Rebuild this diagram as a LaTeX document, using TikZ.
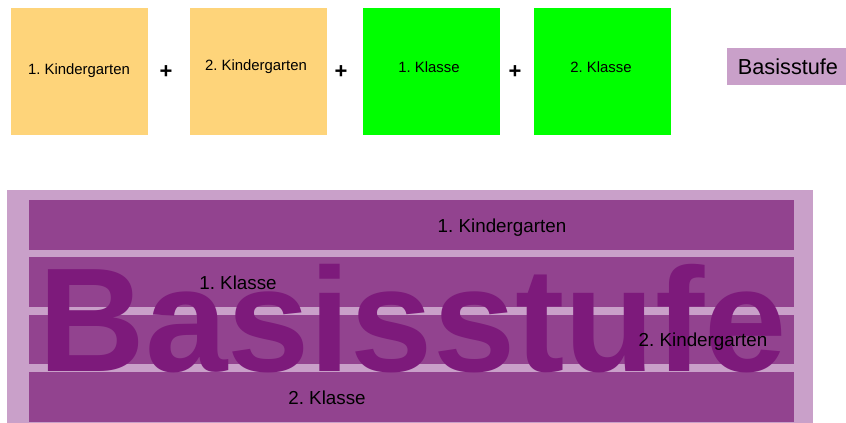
\documentclass[tikz,border=0pt]{standalone}
\usepackage{fontspec}
\setmainfont{Liberation Sans}
\frenchspacing
\definecolor{kgorange}{HTML}{FED47A}
\definecolor{klgreen}{HTML}{00FF00}
\definecolor{lightpurple}{HTML}{C9A0C9}
\definecolor{barpurple}{HTML}{92438F}
\definecolor{darkpurple}{HTML}{7D1A7B}
\begin{document}
\begin{tikzpicture}[x=1pt,y=-1pt,
  box/.style={minimum width=137pt,minimum height=127pt,inner sep=0pt,draw=none},
  toplabel/.style={font=\fontsize{14.9}{16}\selectfont,inner sep=0pt},
  plussign/.style={font=\fontsize{22}{24}\selectfont\bfseries,inner sep=0pt},
  bar/.style={fill=barpurple,draw=none},
  barlabel/.style={font=\fontsize{18.8}{20}\selectfont,inner sep=0pt,text=black}]
\useasboundingbox (0,0) rectangle (846,423);
% top row
\node[box,fill=kgorange] (b1) at (79.5,71.5) {};
\node[box,fill=kgorange] (b2) at (258.5,71.5) {};
\node[box,fill=klgreen] (b3) at (431.5,71.5) {};
\node[box,fill=klgreen] (b4) at (602.5,71.5) {};
\node[toplabel] (t1) at (79,71) {1. Kindergarten};
\node[toplabel] (t2) at (256,67) {2. Kindergarten};
\node[toplabel] (t3) at (429,67) {1. Klasse};
\node[toplabel] (t4) at (601,67) {2. Klasse};
\node[plussign] (p1) at (166,72) {+};
\node[plussign] (p2) at (341,72) {+};
\node[plussign] (p3) at (515,72) {+};
\node[fill=lightpurple,minimum width=122pt,minimum height=37pt,inner sep=0pt,
  font=\fontsize{21.7}{24}\selectfont] (bs) at (788,66.5) {Basisstufe};
% bottom block
\fill[lightpurple] (7,190) rectangle (813,423);
\fill[bar] (29,200) rectangle (794,250);
\fill[bar] (29,257) rectangle (794,307);
\fill[bar] (29,315) rectangle (794,364);
\fill[bar] (29,372) rectangle (794,422);
\node[anchor=base west,inner sep=0pt,text=darkpurple,
  font=\fontsize{148}{148}\selectfont\bfseries] (big) at (38,371) {Basisstufe};
\node[barlabel] (l1) at (502,228) {1. Kindergarten};
\node[barlabel] (l2) at (238,283) {1. Klasse};
\node[barlabel] (l3) at (703,342) {2. Kindergarten};
\node[barlabel] (l4) at (327,398) {2. Klasse};
\end{tikzpicture}
\end{document}
